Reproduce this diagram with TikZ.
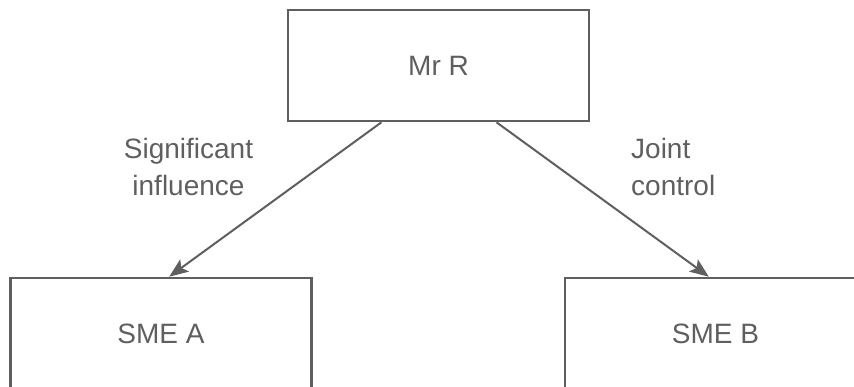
\documentclass[tikz,border=0pt]{standalone}
\usepackage{fontspec}
\setmainfont{Liberation Sans}
\usetikzlibrary{calc,arrows.meta}
\definecolor{ink}{HTML}{5F5F5F}
\begin{document}
\begin{tikzpicture}[x=1pt,y=-1pt,
  entity/.style={draw=ink,line width=2.6pt,minimum width=301pt,minimum height=111pt,
    inner sep=0pt,text=ink,font=\fontsize{28}{37}\selectfont},
  relation/.style={draw=ink,line width=2pt,-{Stealth[length=19pt,width=15pt,inset=4pt]}},
  note/.style={text=ink,inner sep=0pt,font=\fontsize{28}{37}\selectfont}]
\useasboundingbox (0,0) rectangle (854,387);
\clip (0,0) rectangle (854,387);
\node[entity] (mr) at (438.5,65.5) {Mr R};
\node[entity] (smea) at (161,333.5) {SME A};
\node[entity] (smeb) at (715.5,333.5) {SME B};
\draw[relation] ($(mr.south west)!0.312!(mr.south east)$) -- ($(smea.north west)!0.527!(smea.north east)$);
\draw[relation] ($(mr.south west)!0.691!(mr.south east)$) -- ($(smeb.north west)!0.478!(smeb.north east)$);
\node[note,anchor=base] (si1) at (188.5,159) {Significant};
\node[note,anchor=base] (si2) at (188.5,196) {influence};
\node[note,anchor=base west] (jc1) at (631,159) {Joint};
\node[note,anchor=base west] (jc2) at (631,196) {control};
\end{tikzpicture}
\end{document}
